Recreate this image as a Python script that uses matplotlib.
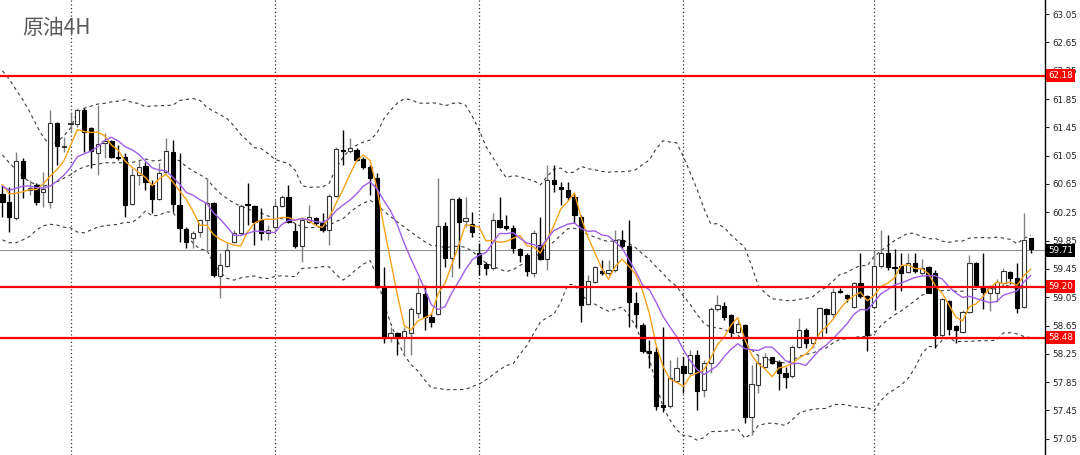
import numpy as np
import pandas as pd
import matplotlib
matplotlib.use("Agg")
import matplotlib.pyplot as plt

# ===============================
# OHLC data (4H bars)
# ===============================
opens = [
    60.51, 60.39, 60.17, 60.97, 60.56, 60.63, 60.54, 60.39, 61.51, 61.17,
    61.50, 61.50, 61.69, 61.44, 61.09, 61.23, 61.26, 61.03, 61.03, 60.37,
    60.78, 60.90, 60.63, 60.44, 60.82, 61.10, 60.35, 60.01, 59.89, 59.97,
    60.14, 60.38, 59.35, 59.49, 59.83, 59.96, 60.37, 60.34, 60.14, 59.96,
    60.04, 60.34, 60.47, 59.99, 59.77, 60.11, 60.17, 60.10, 60.00, 60.48,
    61.13, 61.12, 61.13, 61.00, 60.89, 60.73, 59.19, 58.47, 58.54, 58.47,
    58.54, 58.83, 59.10, 58.77, 58.81, 60.06, 59.60, 60.44, 60.13, 60.08,
    59.67, 59.52, 59.46, 60.14, 60.06, 60.03, 59.73, 59.65, 59.39, 59.79,
    59.59, 60.71, 60.61, 60.56, 60.47, 60.18, 58.95, 59.27, 59.42, 59.39,
    59.43, 59.86, 59.77, 58.97, 58.66, 58.29, 58.28, 57.53, 57.51, 57.87,
    58.08, 57.98, 58.23, 57.74, 58.12, 58.88, 58.93, 58.80, 58.56, 58.66,
    57.36, 57.81, 58.06, 58.21, 58.14, 57.98, 57.94, 58.35, 58.59, 58.40,
    58.47, 58.88, 58.81, 59.14, 59.08, 58.91, 59.25, 59.07, 58.91, 59.49,
    59.67, 59.48, 59.49, 59.41, 59.53, 59.39, 59.48, 59.39, 58.52, 58.99,
    58.64, 58.56, 58.84, 59.53, 59.19, 59.11, 59.11, 59.25, 59.41, 59.32,
    58.91, 59.88]

highs = [
    60.63, 60.61, 61.10, 61.02, 60.71, 60.66, 60.82, 61.69, 61.52, 61.31,
    61.67, 61.72, 61.72, 61.45, 61.77, 61.37, 61.27, 61.20, 61.09, 60.88,
    60.99, 60.96, 60.71, 60.95, 61.30, 61.27, 61.09, 60.04, 59.99, 60.15,
    60.73, 60.39, 59.67, 59.82, 60.00, 60.37, 60.66, 60.35, 60.31, 60.07,
    60.42, 60.49, 60.63, 60.10, 60.18, 60.35, 60.18, 60.24, 60.51, 61.17,
    61.41, 61.30, 61.16, 61.03, 60.92, 60.80, 59.48, 58.63, 58.56, 58.63,
    58.91, 59.32, 59.22, 58.83, 60.73, 60.11, 60.45, 60.47, 60.47, 60.25,
    59.82, 59.55, 60.24, 60.47, 60.21, 60.07, 59.75, 59.67, 60.00, 60.18,
    60.92, 60.92, 60.68, 60.68, 60.52, 60.21, 59.36, 59.49, 59.58, 59.58,
    60.00, 60.00, 60.14, 59.12, 58.69, 58.45, 58.35, 58.63, 58.16, 58.21,
    58.21, 58.30, 58.30, 58.16, 58.91, 59.08, 58.98, 58.81, 58.76, 58.67,
    58.09, 58.23, 58.26, 58.21, 58.16, 58.07, 58.38, 58.76, 58.62, 58.49,
    58.91, 58.90, 59.18, 59.18, 59.10, 59.27, 59.67, 59.08, 59.72, 60.00,
    59.93, 59.73, 59.67, 59.67, 59.67, 59.59, 59.49, 59.43, 59.04, 59.01,
    58.66, 58.87, 59.65, 59.55, 59.67, 59.22, 59.31, 59.46, 59.42, 59.53,
    60.24, 59.89]

lows = [
    60.18, 59.97, 60.14, 60.45, 60.49, 60.35, 60.32, 60.31, 60.92, 61.10,
    61.38, 61.45, 61.10, 60.88, 60.78, 61.02, 61.02, 60.99, 60.18, 60.35,
    60.63, 60.56, 60.24, 60.42, 60.81, 60.25, 59.83, 59.75, 59.75, 59.90,
    59.69, 59.34, 59.04, 59.48, 59.82, 59.93, 60.07, 59.79, 59.86, 59.86,
    60.00, 60.32, 60.10, 59.75, 59.55, 60.10, 60.07, 59.97, 59.79, 60.47,
    60.92, 61.09, 60.97, 60.86, 60.49, 59.18, 58.40, 58.42, 58.23, 58.23,
    58.23, 58.76, 58.59, 58.63, 58.80, 59.48, 59.34, 59.46, 60.04, 59.90,
    59.36, 59.36, 59.43, 60.03, 60.00, 59.67, 59.55, 59.35, 59.34, 59.58,
    59.43, 60.54, 60.35, 60.42, 60.10, 58.70, 58.94, 59.25, 59.36, 59.36,
    59.41, 59.75, 58.63, 58.63, 58.26, 58.05, 57.46, 57.43, 57.49, 57.84,
    57.70, 57.95, 57.46, 57.64, 57.98, 58.86, 58.73, 58.47, 58.54, 57.27,
    57.10, 57.70, 58.05, 58.11, 57.74, 57.77, 57.91, 58.33, 58.33, 58.33,
    58.46, 58.54, 58.77, 59.11, 58.98, 58.90, 59.04, 58.29, 58.90, 59.46,
    59.43, 58.87, 59.14, 59.39, 59.39, 59.36, 59.11, 58.33, 58.49, 58.52,
    58.40, 58.54, 58.83, 59.21, 58.88, 58.86, 58.98, 59.20, 59.24, 58.82,
    58.90, 59.67]

closes = [
    60.39, 60.18, 60.97, 60.73, 60.59, 60.39, 60.58, 61.51, 61.19, 61.19,
    61.51, 61.69, 61.38, 61.12, 61.21, 61.26, 61.03, 61.02, 60.35, 60.78,
    60.89, 60.68, 60.44, 60.81, 61.12, 60.37, 60.03, 59.83, 59.96, 60.14,
    60.38, 59.36, 59.50, 59.72, 59.96, 60.34, 60.35, 60.11, 59.96, 60.00,
    60.34, 60.47, 60.11, 59.77, 60.14, 60.18, 60.10, 60.00, 60.48, 61.14,
    61.12, 61.16, 60.99, 60.89, 60.73, 59.19, 58.47, 58.54, 58.47, 58.57,
    58.88, 59.11, 58.77, 58.70, 60.06, 59.60, 60.44, 60.11, 60.17, 59.97,
    59.52, 59.46, 60.14, 60.04, 60.03, 59.75, 59.65, 59.42, 59.96, 59.59,
    60.71, 60.65, 60.58, 60.47, 60.21, 58.94, 59.28, 59.48, 59.39, 59.43,
    59.86, 59.77, 58.98, 58.81, 58.29, 58.26, 57.51, 57.50, 57.91, 58.05,
    57.98, 58.23, 57.73, 58.12, 58.88, 58.94, 58.77, 58.56, 58.67, 57.36,
    57.82, 58.12, 58.21, 58.12, 57.98, 57.92, 58.35, 58.59, 58.40, 58.47,
    58.90, 58.81, 59.12, 59.12, 59.04, 59.25, 59.07, 58.52, 59.49, 59.67,
    59.48, 59.46, 59.39, 59.53, 59.42, 59.46, 59.11, 58.52, 59.02, 58.60,
    58.59, 58.84, 59.53, 59.22, 59.12, 59.18, 59.27, 59.42, 59.32, 58.90,
    59.86, 59.73]

# indicator values at the left edge (history before the first visible bar)
ma5_head = [60.64, 60.51, 60.52, 60.54]
ma10_head = [60.62, 60.56, 60.59, 60.62, 60.62, 60.60, 60.59, 60.62, 60.69]
bb_up_head = [62.25, 62.13, 61.98, 61.84, 61.67, 61.48, 61.31, 61.20, 61.24, 61.33,
              61.44, 61.67, 61.72, 61.75, 61.78, 61.79, 61.81, 61.82, 61.84]
bb_mid_head = [61.06, 60.95, 60.85, 60.75, 60.68, 60.64, 60.62, 60.64, 60.68, 60.73,
               60.78, 60.85, 60.89, 60.92, 60.93, 60.95, 60.95, 60.95, 60.95]
bb_low_head = [59.86, 59.82, 59.82, 59.86, 59.91, 60.00, 60.06, 60.08, 60.07, 60.04,
               60.03, 59.97, 59.96, 60.00, 60.04, 60.06, 60.07, 60.08, 60.11]

week_starts = [10, 40, 70, 100, 128]
levels = [62.18, 59.20, 58.48]
last_price = 59.71
yticks = [63.05, 62.65, 62.25, 61.85, 61.45, 61.05, 60.65, 60.25, 59.85,
          59.45, 59.05, 58.65, 58.25, 57.85, 57.45, 57.05]
title = "原油4H"

# ===============================
# Indicators
# ===============================
c = pd.Series(closes)
ma5 = c.rolling(5).mean().to_numpy()
ma10 = c.rolling(10).mean().to_numpy()
mid = c.rolling(20).mean()
sd = c.rolling(20).std(ddof=0)
bb_up = (mid + 2 * sd).to_numpy()
bb_low = (mid - 2 * sd).to_numpy()
bb_mid = mid.to_numpy()

ma5[:len(ma5_head)] = ma5_head
ma10[:len(ma10_head)] = ma10_head
bb_up[:len(bb_up_head)] = bb_up_head
bb_mid[:len(bb_mid_head)] = bb_mid_head
bb_low[:len(bb_low_head)] = bb_low_head

# ===============================
# Plot
# ===============================
plt.rcParams['font.family'] = ['DejaVu Sans']
fig = plt.figure(figsize=(10.8, 4.55), dpi=100)
ax = fig.add_axes([0, 0, 1045 / 1080, 1])

x = np.arange(len(closes))
o = np.array(opens)
h = np.array(highs)
l = np.array(lows)
cl = np.array(closes)
up = cl > o

# bands
for band in (bb_up, bb_mid, bb_low):
    ax.plot(x, band, color='#3a3a3a', lw=0.8, ls=(0, (3, 3)), zorder=1)

# period separators and last price line
for w in week_starts:
    ax.axvline(w, color='#333333', lw=0.9, ls=(0, (1, 2)), zorder=1)
ax.axhline(last_price, color='#8c939b', lw=0.8, zorder=1)

# candles
ax.vlines(x[up], l[up], h[up], color='#808080', lw=1.0, zorder=2)
ax.vlines(x[~up], l[~up], h[~up], color='black', lw=1.0, zorder=2)
body_lo = np.minimum(o, cl)
body_h = np.maximum(np.abs(cl - o), 0.012)
ax.bar(x[up], body_h[up], bottom=body_lo[up], width=0.62,
       color='white', edgecolor='#333333', linewidth=0.8, zorder=3)
ax.bar(x[~up], body_h[~up], bottom=body_lo[~up], width=0.62,
       color='black', edgecolor='black', linewidth=0.8, zorder=3)

# moving averages
ax.plot(x, ma5, color='#f7a21b', lw=1.0, zorder=4)
ax.plot(x, ma10, color='#a15ee8', lw=1.0, zorder=4)

# key levels with price tags on the axis
for lv in levels:
    ax.axhline(lv, color='#ff0000', lw=1.6, zorder=5)
    ax.text(1.003, lv, f"{lv:.2f}", transform=ax.get_yaxis_transform(),
            ha='left', va='center', fontsize=6.3, color='white',
            bbox=dict(boxstyle='square,pad=0.22', fc='#ff0000', ec='none'),
            zorder=10, clip_on=False)
ax.text(1.003, last_price, f"{last_price:.2f}", transform=ax.get_yaxis_transform(),
        ha='left', va='center', fontsize=6.3, color='white',
        bbox=dict(boxstyle='square,pad=0.22', fc='black', ec='none'),
        zorder=10, clip_on=False)

fig.text(22 / 1080, 1 - 28 / 455, title, fontsize=15, color='#5a5a5a',
         family=['Noto Sans CJK SC', 'DejaVu Sans'], va='center', ha='left')

# axes
ax.set_xlim(-0.36, 153.1)
ax.set_ylim(56.82, 63.25)
ax.yaxis.tick_right()
ax.set_yticks(yticks)
ax.set_yticklabels([f"{t:.2f}" for t in yticks])
ax.tick_params(axis='y', direction='out', length=3, width=0.8,
               labelsize=6.3, colors='#222222', pad=2)
ax.set_xticks([])
for s in ('top', 'left', 'bottom'):
    ax.spines[s].set_visible(False)
ax.spines['right'].set_color('black')
ax.spines['right'].set_linewidth(1.0)

fig.savefig('out.png', dpi=100)
